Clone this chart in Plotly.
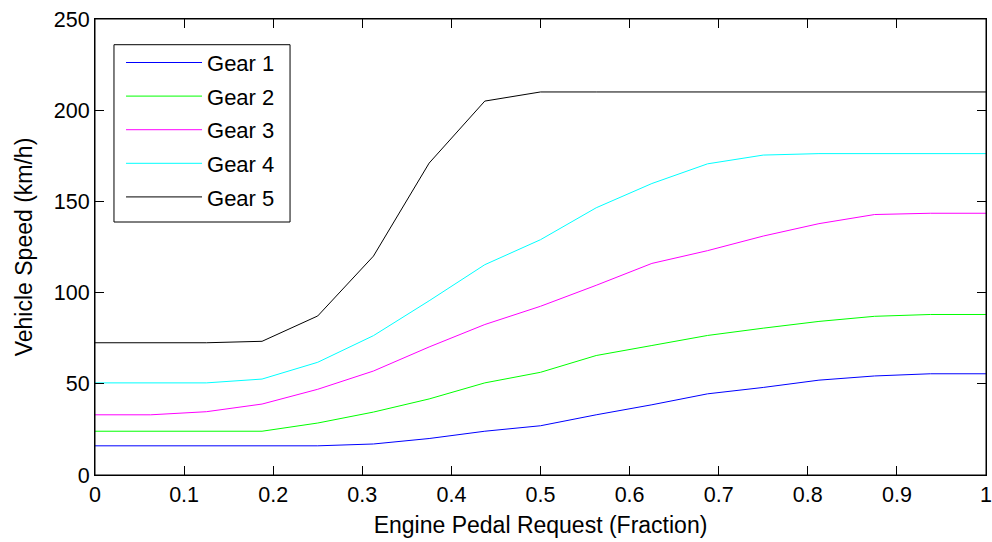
import plotly.graph_objects as go

pedal = [0, 0.0625, 0.125, 0.1875, 0.25, 0.3125, 0.375, 0.4375, 0.5,
         0.5625, 0.625, 0.6875, 0.75, 0.8125, 0.875, 0.9375, 1.0]

gear1 = [16, 16, 16, 16, 16, 17, 20, 24, 27, 33, 38.5, 44.5, 48, 52, 54.3, 55.5, 55.5]
gear2 = [24, 24, 24, 24, 28.5, 34.5, 41.7, 50.5, 56.3, 65.5, 71, 76.5, 80.5, 84.2, 87, 88, 88]
gear3 = [33, 33, 34.7, 38.9, 47, 57, 70.2, 82.5, 92.5, 104, 116, 123, 131, 137.8, 142.8, 143.5, 143.5]
gear4 = [50.5, 50.5, 50.5, 52.6, 61.8, 76.4, 95.5, 115.3, 129, 146.5, 159.8, 170.6, 175.4, 176.2, 176.2, 176.2, 176.2]
gear5 = [72.5, 72.5, 72.5, 73.3, 87.2, 120, 171, 205, 210, 210, 210, 210, 210, 210, 210, 210, 210]

names = ["Gear 1", "Gear 2", "Gear 3", "Gear 4", "Gear 5"]
series = [gear1, gear2, gear3, gear4, gear5]
colors = ["#0000ff", "#00ff00", "#ff00ff", "#00ffff", "#000000"]

x_ticks = [0, 0.1, 0.2, 0.3, 0.4, 0.5, 0.6, 0.7, 0.8, 0.9, 1]
x_tick_labels = ["0", "0.1", "0.2", "0.3", "0.4", "0.5", "0.6", "0.7", "0.8", "0.9", "1"]
y_ticks = [0, 50, 100, 150, 200, 250]

fig = go.Figure()
for name, ys, c in zip(names, series, colors):
    fig.add_trace(go.Scatter(x=pedal, y=ys, mode="lines", name=name,
                             legendgroup=name,
                             line=dict(color=c, width=1)))

font_family = "Liberation Sans, Arial, sans-serif"
axis_common = dict(showline=True, linecolor="black", linewidth=1, mirror="ticks",
                   ticks="inside", ticklen=9, tickcolor="black", tickwidth=1,
                   showgrid=False, zeroline=False, automargin=False,
                   ticklabeloverflow="allow",
                   tickfont=dict(family=font_family, size=21.5, color="black"))

# Plot-area frame
fig.add_shape(type="rect", xref="paper", yref="paper",
              x0=0, x1=1, y0=0, y1=1,
              line=dict(color="black", width=1), fillcolor="rgba(0,0,0,0)",
              layer="above")
# Legend frame (drawn as a shape so the inner padding matches the reference)
fig.add_shape(type="rect", xref="paper", yref="paper",
              x0=0.0213, x1=0.2189, y0=0.5548, y1=0.9436,
              line=dict(color="black", width=1), fillcolor="rgba(0,0,0,0)",
              layer="above")

fig.update_layout(
    width=992, height=542,
    margin=dict(l=95, r=6, t=19, b=67),
    paper_bgcolor="white", plot_bgcolor="white",
    font=dict(family=font_family, color="black"),
    xaxis=dict(range=[0, 1], tickvals=x_ticks, ticktext=x_tick_labels,
               title=dict(text="Engine Pedal Request (Fraction)",
                          font=dict(family=font_family, size=23), standoff=11),
               **axis_common),
    yaxis=dict(range=[0, 250], tickvals=y_ticks,
               title=dict(text="Vehicle Speed (km/h)",
                          font=dict(family=font_family, size=23), standoff=14),
               **axis_common),
    legend=dict(x=0.0292, y=0.9502, xanchor="left", yanchor="top",
                borderwidth=0, bgcolor="rgba(0,0,0,0)",
                font=dict(family=font_family, size=22, color="black"),
                itemwidth=76, tracegroupgap=2),
    showlegend=True,
)

fig.write_html("out.html",
               config={"displayModeBar": False},
               post_script="document.body.style.margin='0';document.body.style.overflow='hidden';")
